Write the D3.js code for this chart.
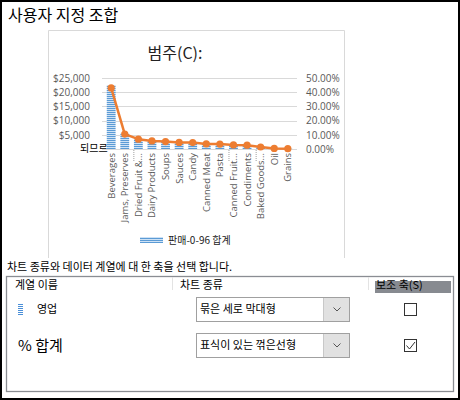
<!DOCTYPE html>
<html><head><meta charset="utf-8">
<script src="https://cdn.jsdelivr.net/npm/d3@7"></script>
<style>
html,body{margin:0;padding:0;background:#fff;}
svg{display:block;}
</style></head>
<body>
<svg id="c" width="460" height="400"></svg>
<script>
const categories = ["Beverages","Jams, Preserves","Dried Fruit &...","Dairy Products","Soups","Sauces","Candy","Canned Meat","Pasta","Canned Fruit...","Condiments","Baked Goods...","Oil","Grains"];
const salesValues = [22500, 5500, 3600, 2900, 2700, 2400, 2350, 1900, 1850, 1500, 1400, 750, 200, 100];
const pctValues = [0.430, 0.105, 0.069, 0.057, 0.052, 0.046, 0.045, 0.036, 0.035, 0.029, 0.027, 0.014, 0.004, 0.002];
const leftTicks = [0, 5000, 10000, 15000, 20000, 25000];
const rightTicks = [0, 0.1, 0.2, 0.3, 0.4, 0.5];
const truncatedLabels = ["Dried Fruit &...","Canned Fruit...","Baked Goods..."];

const svg = d3.select("#c");
const KR = "'Noto Sans CJK KR', sans-serif";
const LAT = "'Open Sans', 'Liberation Sans', sans-serif";

// outer frame
svg.append("rect").attr("x",1).attr("y",1).attr("width",458).attr("height",398)
  .attr("fill","#fff").attr("stroke","#000").attr("stroke-width",2);

svg.append("text").attr("x",8).attr("y",21).text("사용자 지정 조합")
  .attr("font-family",KR).attr("font-size",16).attr("fill","#000");

// chart panel (left, top, right borders)
svg.append("path").attr("d","M48.5,258 V30.5 H344.5 V258")
  .attr("fill","none").attr("stroke","#d9d9d9").attr("stroke-width",1);

// pattern
const defs = svg.append("defs");
const pat = defs.append("pattern").attr("id","hstripe").attr("patternUnits","userSpaceOnUse")
  .attr("width",4).attr("height",2);
pat.append("rect").attr("width",4).attr("height",2).attr("fill","#cfe2f5");
pat.append("rect").attr("width",4).attr("height",1).attr("fill","#5b9bd5");

svg.append("text").attr("x",175).attr("y",59).attr("text-anchor","middle")
  .attr("font-family",KR).attr("font-size",16).attr("fill","#222").text("범주(C):");

const x = d3.scaleBand().domain(categories).range([102,297]).padding(0.35);
const y = d3.scaleLinear().domain([0,25000]).range([149,78]);
const y2 = d3.scaleLinear().domain([0,0.5]).range([149,78]);

// gridlines
svg.append("g").selectAll("line").data(leftTicks).join("line")
  .attr("x1",102).attr("x2",297)
  .attr("y1",d=>Math.round(y(d))+0.5).attr("y2",d=>Math.round(y(d))+0.5)
  .attr("stroke","#d9d9d9").attr("stroke-width",1);

// left axis
const gl = svg.append("g").attr("transform","translate(92,0)")
  .call(d3.axisLeft(y).tickValues(leftTicks).tickSize(0).tickPadding(2)
    .tickFormat(d=> d===0 ? "" : "$"+d3.format(",")(d)));
gl.select(".domain").remove();
gl.selectAll("text").attr("font-family",LAT).attr("font-size",10).attr("fill","#595959");

// right axis
const gr = svg.append("g").attr("transform","translate(304,0)")
  .call(d3.axisRight(y2).tickValues(rightTicks).tickSize(0).tickPadding(2)
    .tickFormat(d3.format(".2%")));
gr.select(".domain").remove();
gr.selectAll("text").attr("font-family",LAT).attr("font-size",10).attr("fill","#595959");

// bars
svg.append("g").selectAll("rect").data(categories).join("rect")
  .attr("x",d=>x(d)).attr("width",x.bandwidth())
  .attr("y",(d,i)=>y(salesValues[i])).attr("height",(d,i)=>y(0)-y(salesValues[i]))
  .attr("fill","url(#hstripe)");

// line
const cx = d=>x(d)+x.bandwidth()/2;
svg.append("path").datum(categories)
  .attr("d",d3.line().x(cx).y((d,i)=>y2(pctValues[i])))
  .attr("fill","none").attr("stroke","#ed7d31").attr("stroke-width",2.5).attr("stroke-linejoin","round");
svg.append("g").selectAll("circle").data(categories).join("circle")
  .attr("cx",cx).attr("cy",(d,i)=>y2(pctValues[i])).attr("r",3.6).attr("fill","#ed7d31");

// garbled overlay
svg.append("text").attr("x",80).attr("y",152).attr("font-family",KR).attr("font-size",10)
  .attr("fill","#000").text("되므르");

// x labels
svg.append("g").selectAll("text").data(categories).join("text")
  .attr("transform",d=>`translate(${cx(d)+3.5},153) rotate(-90)`)
  .attr("text-anchor","end").attr("font-family",LAT).attr("font-size",9.5).attr("fill","#595959")
  .text(d=>d);

// truncation markers
svg.append("g").selectAll("line").data(truncatedLabels).join("line")
  .attr("x1",d=>cx(d)-4.5).attr("x2",d=>cx(d)-4.5).attr("y1",150).attr("y2",162)
  .attr("stroke","#a0a0a0").attr("stroke-width",1).attr("stroke-dasharray","1,1");

// legend
svg.append("rect").attr("x",140).attr("y",237).attr("width",23).attr("height",6).attr("fill","url(#hstripe)");
svg.append("text").attr("x",168).attr("y",243.5).attr("font-family",KR).attr("font-size",10)
  .attr("fill","#222").text("판매-0-96 합계");

// instruction
svg.append("text").attr("x",7).attr("y",271).attr("font-family",KR).attr("font-size",11)
  .attr("fill","#000").text("차트 종류와 데이터 계열에 대 한 축을 선택 합니다.");

// table box
svg.append("rect").attr("x",6.5).attr("y",276.5).attr("width",447).attr("height",115)
  .attr("fill","#fff").attr("stroke","#8a8d93").attr("stroke-width",1.3);
svg.append("line").attr("x1",172.5).attr("x2",172.5).attr("y1",277).attr("y2",290).attr("stroke","#e3e3e3");
svg.append("line").attr("x1",368.5).attr("x2",368.5).attr("y1",277).attr("y2",290).attr("stroke","#e3e3e3");
svg.append("rect").attr("x",375).attr("y",281).attr("width",76).attr("height",12).attr("fill","#878a90");

const hdr = [["계열 이름",15],["차트 종류",180],["보조 축(S)",376]];
svg.append("g").selectAll("text").data(hdr).join("text")
  .attr("x",d=>d[1]).attr("y",289).attr("font-family",KR).attr("font-size",11).attr("fill","#000")
  .text(d=>d[0]);

// row 1 icon
svg.append("g").selectAll("rect").data(d3.range(6)).join("rect")
  .attr("x",18).attr("y",d=>304+d*2).attr("width",5).attr("height",1).attr("fill","#4a8fd8");
svg.append("text").attr("x",37).attr("y",313).attr("font-family",KR).attr("font-size",11).attr("fill","#000").text("영업");
svg.append("text").attr("x",18).attr("y",351).attr("font-family",KR).attr("font-size",15).attr("fill","#000").text("% 합계");

// dropdowns
const dd = [["묶은 세로 막대형",297],["표식이 있는 꺾은선형",333]];
dd.forEach(([t,top])=>{
  svg.append("rect").attr("x",196.5).attr("y",top+0.5).attr("width",153).attr("height",24)
    .attr("fill","#fff").attr("stroke","#a0a0a0");
  svg.append("rect").attr("x",324).attr("y",top+1).attr("width",25).attr("height",23).attr("fill","#e1e1e1");
  svg.append("line").attr("x1",323.5).attr("x2",323.5).attr("y1",top+1).attr("y2",top+24).attr("stroke","#c8c8c8");
  svg.append("path").attr("d",`M333.5,${top+10.5} L337,${top+14} L340.5,${top+10.5}`)
    .attr("fill","none").attr("stroke","#555").attr("stroke-width",1);
  svg.append("text").attr("x",200).attr("y",top+16).attr("font-family",KR).attr("font-size",11)
    .attr("fill","#000").text(t);
});

// checkboxes
svg.append("rect").attr("x",404.5).attr("y",303.5).attr("width",12).attr("height",12)
  .attr("fill","#fff").attr("stroke","#333");
svg.append("rect").attr("x",404.5).attr("y",339.5).attr("width",12).attr("height",12)
  .attr("fill","#fff").attr("stroke","#333");
svg.append("path").attr("d","M406.5,345.5 L409.5,349 L415,342")
  .attr("fill","none").attr("stroke","#333").attr("stroke-width",1);
</script>
</body></html>
